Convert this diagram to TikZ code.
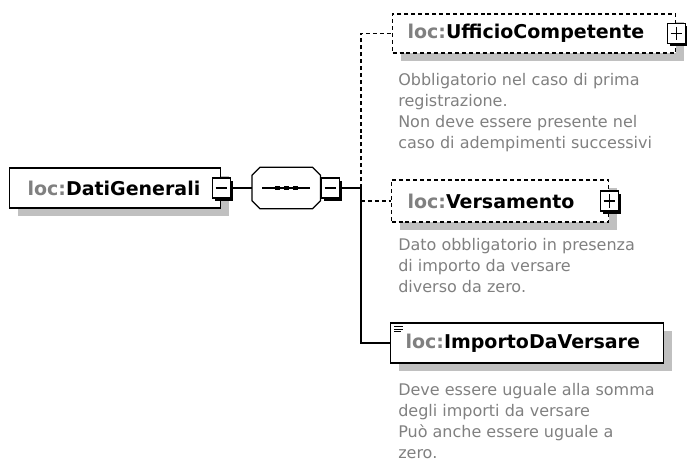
\documentclass[tikz,border=0pt]{standalone}
\usepackage{fontspec}
\setmainfont{DejaVu Sans}
\usepackage{tikz}
\usetikzlibrary{shadows}

\newdimen\pxu
\pxu=0.75pt
\definecolor{shadowgray}{RGB}{192,192,192}
\definecolor{descgray}{RGB}{128,128,128}
\definecolor{labgray}{RGB}{128,128,128}
\newcommand{\labelfont}{\fontsize{14.25}{17}\selectfont\bfseries}
\newcommand{\descfont}{\fontsize{12}{15.75}\selectfont}
\newcommand{\el}[1]{{\color{labgray}loc:}#1}
\newcommand{\octo}[2]{([xshift=8\pxu]#1.north west) -- ([xshift=-8\pxu]#1.north east)
  -- ([yshift=-8\pxu]#1.north east) -- ([yshift=8\pxu]#1.south east)
  -- ([xshift=-8\pxu]#1.south east) -- ([xshift=8\pxu]#1.south west)
  -- ([yshift=8\pxu]#1.south west) -- ([yshift=-8\pxu]#1.north west) -- cycle}

\tikzset{
  elbox/.style={draw, line width=0.9pt, fill=white, rectangle, anchor=west,
    inner ysep=0pt, align=left, font=\labelfont,
    general shadow={fill=shadowgray, shadow xshift=8\pxu, shadow yshift=-8\pxu}},
  optbox/.style={elbox, dash pattern=on 3pt off 2.2pt},
  tog/.style={draw, line width=0.9pt, fill=white, minimum width=18\pxu,
    minimum height=20\pxu, inner sep=0pt,
    general shadow={fill=black, shadow xshift=2.5\pxu, shadow yshift=-2.5\pxu}},
  note/.style={anchor=north west, inner sep=0pt, align=left, text=descgray, font=\descfont},
  wire/.style={line width=0.9pt},
  optwire/.style={wire, dash pattern=on 3pt off 2.2pt}
}

\begin{document}
\begin{tikzpicture}[x=\pxu, y=-\pxu]
\useasboundingbox (0,0) rectangle (687,461);

% root element and sequence
\node[elbox, minimum width=211\pxu, minimum height=40\pxu, inner xsep=18\pxu, text width=175\pxu] (dati) at (9,188) {\el{DatiGenerali}};
\node[tog] (datiT) at (dati.east) {};
\draw[wire] ([xshift=4\pxu]datiT.west) -- ([xshift=-4\pxu]datiT.east);

\node[anchor=west, minimum width=68\pxu, minimum height=41\pxu, inner sep=0pt] (seq) at (252,188) {};
\fill[shadowgray, xshift=8\pxu, yshift=-8\pxu] \octo{seq}{};
\draw[wire, fill=white] \octo{seq}{};
\draw[wire] ([xshift=-24\pxu]seq.center) -- ([xshift=24\pxu]seq.center);
\foreach \dx in {-9,0,9}
  \fill ([xshift=\dx\pxu]seq.center) +(-2.3,-2.3) rectangle +(2.3,2.3);
\node[tog, anchor=west] (seqT) at (seq.east) {};
\draw[wire] ([xshift=4\pxu]seqT.west) -- ([xshift=-4\pxu]seqT.east);

\draw[wire] (datiT.east) -- (seq.west);
\coordinate (hub) at (361,188);
\draw[wire] (seqT.east) -- (hub);

% children
\node[optbox, minimum width=283\pxu, minimum height=39\pxu, inner xsep=15\pxu, text width=253\pxu] (uffC) at (392,33.5) {\el{UfficioCompetente}};
\node[tog] (uffT) at (uffC.east) {};
\draw[wire] ([xshift=4\pxu]uffT.west) -- ([xshift=-4\pxu]uffT.east);
\draw[wire] ([yshift=-4\pxu]uffT.north) -- ([yshift=4\pxu]uffT.south);

\node[optbox, minimum width=217\pxu, minimum height=42\pxu, inner xsep=16\pxu, text width=185\pxu] (vers) at (391,201) {\el{Versamento}};
\node[tog] (versT) at (vers.east) {};
\draw[wire] ([xshift=4\pxu]versT.west) -- ([xshift=-4\pxu]versT.east);
\draw[wire] ([yshift=-4\pxu]versT.north) -- ([yshift=4\pxu]versT.south);

\node[elbox, minimum width=273\pxu, minimum height=40\pxu, inner xsep=15\pxu, text width=243\pxu] (impD) at (390,343) {\el{ImportoDaVersare}};
\foreach \dy/\len in {4/9,6.5/9,9/7}
  \draw[line width=0.6pt] ([xshift=4\pxu,yshift=-\dy\pxu]impD.north west) -- ++(\len,0);

\coordinate (versJ) at (hub |- vers.west);
\draw[optwire] (hub) |- (uffC.west);
\draw[optwire] (versJ) -- (vers.west);
\draw[wire] (hub) |- (impD.west);

% annotations
\node[note] (uffN) at (398,73.5) {Obbligatorio nel caso di prima\\registrazione.\\Non deve essere presente nel\\caso di adempimenti successivi};
\node[note] (versN) at (398,238.5) {Dato obbligatorio in presenza\\di importo da versare\\diverso da zero.};
\node[note] (impN) at (398,383.5) {Deve essere uguale alla somma\\degli importi da versare\\Può anche essere uguale a\\zero.};
\end{tikzpicture}
\end{document}
